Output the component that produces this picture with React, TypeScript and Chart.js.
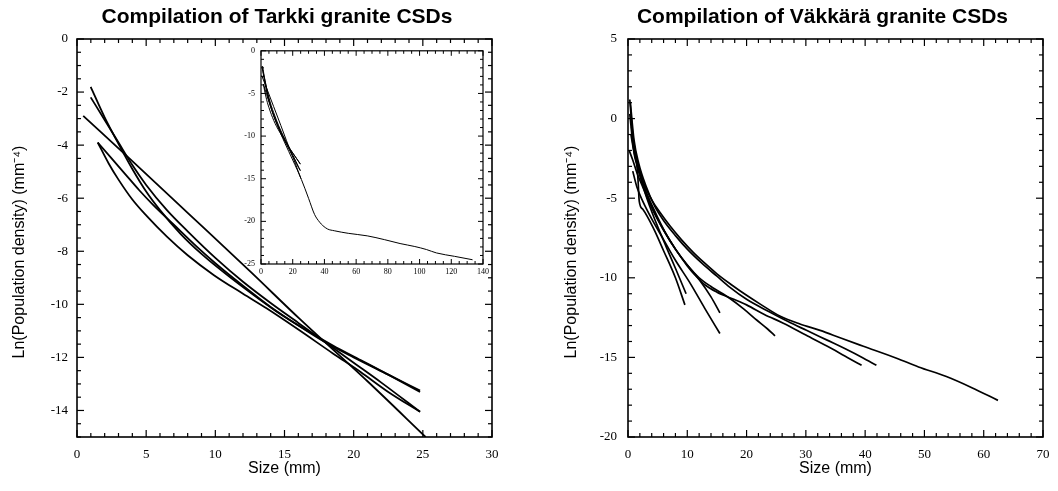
import React, { useEffect, useRef } from 'react';
import { Chart, registerables } from 'chart.js';

Chart.register(...registerables);

// ---------------- Tarkki granite (left panel) ----------------
const tarkkiTitle = 'Compilation of Tarkki granite CSDs';
const tarkkiXTicks = [0, 5, 10, 15, 20, 25, 30];
const tarkkiYTicks = [0, -2, -4, -6, -8, -10, -12, -14];

const tarkki1Size = [0.45, 4, 8, 12.5, 16.1, 21, 25.2];
const tarkki1Ln = [-2.9, -4.6, -6.55, -8.75, -10.55, -12.9, -15.0];

const tarkki2Size = [0.99, 2, 3, 4, 5, 6, 7.5, 9, 10.5, 12.5, 14.5, 16.5, 18.5, 20.5, 22.5, 24.8];
const tarkki2Ln = [-1.8, -2.95, -3.95, -4.9, -5.75, -6.45, -7.35, -8.1, -8.75, -9.55, -10.3, -10.95, -11.55, -12.1, -12.65, -13.3];

const tarkki3Size = [0.99, 2, 3, 4, 5, 6.5, 8, 10, 12, 14, 16, 18, 20, 22, 24.8];
const tarkki3Ln = [-2.2, -3.05, -3.9, -4.75, -5.5, -6.45, -7.25, -8.25, -9.15, -9.95, -10.7, -11.45, -12.2, -12.95, -14.05];

const tarkki4Size = [1.5, 2.5, 3.5, 4.5, 5.5, 7, 8.5, 10, 12, 14, 16, 18, 20, 22.5, 24.8];
const tarkki4Ln = [-3.9, -4.5, -5.1, -5.7, -6.25, -7.0, -7.75, -8.45, -9.3, -10.1, -10.8, -11.45, -12.0, -12.65, -13.25];

const tarkki5Size = [1.5, 2.3, 3, 4, 5, 6.5, 8, 9.9, 12, 13.7, 16, 18.5, 20.5, 22.5, 24.8];
const tarkki5Ln = [-3.9, -4.7, -5.3, -6.05, -6.65, -7.45, -8.15, -8.9, -9.6, -10.15, -10.95, -11.85, -12.55, -13.3, -14.05];

// inset: full-range CSD
const insetXTicks = [0, 20, 40, 60, 80, 100, 120, 140];
const insetYTicks = [0, -5, -10, -15, -20, -25];
const insetLongSize = [0.6, 3, 6, 10, 15, 20, 25.5, 30, 33.8, 37, 39, 42, 46.2, 55, 67, 78, 87.7, 97, 104.3, 110.6, 122, 133.4];
const insetLongLn = [-1.8, -4.3, -6.5, -8.6, -10.8, -12.8, -15.1, -17.3, -19.2, -20.1, -20.5, -20.9, -21.1, -21.4, -21.7, -22.15, -22.6, -22.95, -23.3, -23.7, -24.1, -24.5];

// ---------------- Väkkärä granite (right panel) ----------------
const vakkaraTitle = 'Compilation of Väkkärä granite CSDs';
const vakkaraXTicks = [0, 10, 20, 30, 40, 50, 60, 70];
const vakkaraYTicks = [5, 0, -5, -10, -15, -20];

const vakkara1Size = [0.3, 0.8, 1.5, 2.5, 4, 5.5, 7.1, 9, 11, 13, 15, 17.5, 20, 22.5, 25.6, 29, 32.4, 36, 39.7, 45.3, 49, 53.7, 58, 62.4];
const vakkara1Ln = [1.2, -1, -2.6, -3.9, -5.1, -5.95, -6.75, -7.6, -8.4, -9.1, -9.75, -10.45, -11.1, -11.7, -12.4, -12.9, -13.3, -13.8, -14.3, -15.05, -15.6, -16.2, -16.9, -17.7];

const vakkara2Size = [0.4, 1, 1.8, 3, 4.5, 6, 8, 10, 12.5, 15, 17.2, 20, 23.9, 27, 30.1, 33.5, 36.9, 39.5, 41.9];
const vakkara2Ln = [1.0, -1.3, -2.8, -4.2, -5.5, -6.4, -7.35, -8.2, -9.1, -9.9, -10.6, -11.35, -12.15, -12.75, -13.3, -13.9, -14.5, -15.0, -15.5];

const vakkara3Size = [0.3, 0.9, 1.8, 3, 4.5, 6, 8, 10, 11.6, 13, 15, 17.5, 20, 23, 26.2, 30, 34.1, 37, 39.4];
const vakkara3Ln = [0.3, -1.8, -3.2, -4.6, -5.95, -7.0, -8.2, -9.25, -9.95, -10.45, -10.9, -11.3, -11.7, -12.3, -12.85, -13.6, -14.4, -15.0, -15.5];

const vakkara4Size = [0.5, 1.2, 2.2, 3.5, 5, 6.5, 8, 10, 12, 14, 17.2, 19.5, 21.7, 23.5, 24.8];
const vakkara4Ln = [-1.0, -2.5, -3.8, -5.0, -6.2, -7.3, -8.2, -9.2, -10.0, -10.55, -11.3, -11.95, -12.65, -13.2, -13.65];

const vakkara5Size = [0.2, 0.8, 1.5, 2.5, 4, 6, 8, 10, 12, 14, 15.5];
const vakkara5Ln = [-2.0, -2.6, -3.4, -4.3, -5.6, -7.0, -8.2, -9.2, -10.1, -11.2, -12.2];

const vakkara6Size = [0.8, 1.5, 2.5, 4, 6, 8, 10.5, 13, 15.5];
const vakkara6Ln = [-3.3, -4.3, -5.2, -6.3, -7.6, -8.9, -10.35, -11.95, -13.5];

const vakkara7Size = [0.6, 1.2, 2, 3, 4.8, 6.5, 8, 9.8];
const vakkara7Ln = [-0.5, -2.2, -3.5, -4.8, -6.6, -8.1, -9.4, -11.0];

const vakkara8Size = [1.5, 1.7, 1.9, 2.5, 4.3, 6, 8, 9.6];
const vakkara8Ln = [-2.8, -3.9, -5.2, -5.7, -6.9, -8.3, -10.0, -11.7];

const xTitle = 'Size (mm)';
const yTitle = 'Ln(Population density) (mm⁻⁴)';

// ---------------- helpers ----------------
const curve = (xs: number[], ys: number[], width: number) => ({
  data: xs.map((x, i) => ({ x, y: ys[i] })),
  borderColor: '#000',
  borderWidth: width,
  pointRadius: 0,
  fill: false,
  yAxisID: 'y',
  xAxisID: 'x',
  cubicInterpolationMode: 'monotone' as const,
});

const frameTicksPlugin = {
  id: 'frameTicks',
  beforeDraw(chart: any, _a: any, opts: any) {
    if (!opts || !opts.bg) return;
    const { ctx, chartArea: a } = chart;
    ctx.save();
    ctx.fillStyle = opts.bg;
    ctx.fillRect(a.left, a.top, a.width, a.height);
    ctx.restore();
  },
  afterDraw(chart: any, _a: any, opts: any) {
    const { ctx, chartArea: a, scales } = chart;
    const xs = scales.x;
    const ys = scales.y;
    ctx.save();
    ctx.strokeStyle = '#000';
    ctx.lineWidth = opts.tickWidth || 1;
    const seg = (x1: number, y1: number, x2: number, y2: number) => {
      ctx.beginPath();
      ctx.moveTo(x1, y1);
      ctx.lineTo(x2, y2);
      ctx.stroke();
    };
    const isMajor = (v: number, step: number) => Math.abs(v / step - Math.round(v / step)) < 1e-6;
    const nx = Math.round((xs.max - xs.min) / opts.xMinor);
    for (let i = 0; i <= nx; i++) {
      const v = xs.min + i * opts.xMinor;
      const len = isMajor(v, opts.xMajor) ? opts.majorLen : opts.minorLen;
      const p = xs.getPixelForValue(v);
      seg(p, a.bottom, p, a.bottom - len);
      seg(p, a.top, p, a.top + len);
    }
    const ny = Math.round((ys.max - ys.min) / opts.yMinor);
    for (let i = 0; i <= ny; i++) {
      const v = ys.min + i * opts.yMinor;
      const len = isMajor(v, opts.yMajor) ? opts.majorLen : opts.minorLen;
      const p = ys.getPixelForValue(v);
      seg(a.left, p, a.left + len, p);
      seg(a.right, p, a.right - len, p);
    }
    ctx.lineWidth = opts.frameWidth || 1.5;
    ctx.strokeRect(a.left, a.top, a.width, a.height);
    ctx.restore();
  },
};

const yTitlePlugin = {
  id: 'yTitle',
  afterDraw(chart: any, _a: any, opts: any) {
    if (!opts || !opts.text) return;
    const { ctx, chartArea: a } = chart;
    ctx.save();
    ctx.translate(opts.x, (a.top + a.bottom) / 2 + opts.dy);
    ctx.rotate(-Math.PI / 2);
    ctx.font = opts.font;
    ctx.fillStyle = '#000';
    ctx.textAlign = 'center';
    ctx.textBaseline = 'middle';
    ctx.fillText(opts.text, 0, 0);
    ctx.restore();
  },
};

const tickFont = { family: 'Liberation Serif', size: 13 };
const titleFont = { family: 'Liberation Sans', size: 21, weight: 'bold' as const };
const axisTitleFont = { family: 'Liberation Sans', size: 16 };

function axis(min: number, max: number, ticks: number[], fitSize: number, horizontal: boolean, extra: any) {
  return {
    type: 'linear',
    min,
    max,
    afterBuildTicks: (s: any) => {
      s.ticks = ticks.map((v) => ({ value: v }));
    },
    afterFit: (s: any) => {
      if (horizontal) s.height = fitSize;
      else s.width = fitSize;
    },
    grid: { display: false, drawTicks: false },
    border: { display: false },
    ...extra,
  };
}

// spacer axis on the right side (no marks) so the title centres where the original does
function spacer(width: number) {
  return {
    type: 'linear',
    position: 'right',
    display: true,
    afterFit: (s: any) => {
      s.width = width;
    },
    grid: { display: false, drawTicks: false },
    border: { display: false },
    ticks: { display: false },
  };
}

function mainConfig(opts: {
  title: string;
  datasets: any[];
  yWidth: number;
  rightWidth: number;
  xMin: number; xMax: number; xTicks: number[]; xMajor: number; xMinor: number;
  yMin: number; yMax: number; yTicks: number[]; yMajor: number; yMinor: number;
  yLabelPad: number;
  yTitleX: number;
}) {
  return {
    type: 'line',
    data: { datasets: opts.datasets },
    plugins: [frameTicksPlugin, yTitlePlugin],
    options: {
      responsive: false,
      animation: false,
      events: [],
      layout: { padding: 0 },
      plugins: {
        legend: { display: false },
        tooltip: { enabled: false },
        title: {
          display: true,
          text: opts.title,
          color: '#000',
          font: titleFont,
          padding: { top: 5, bottom: 8.8 },
        },
        frameTicks: {
          xMajor: opts.xMajor, xMinor: opts.xMinor, yMajor: opts.yMajor, yMinor: opts.yMinor,
          majorLen: 7, minorLen: 4, tickWidth: 1.2, frameWidth: 1.6,
        },
        yTitle: { text: yTitle, x: opts.yTitleX, dy: 14, font: '16px "Liberation Sans"' },
      },
      scales: {
        x: axis(opts.xMin, opts.xMax, opts.xTicks, 54, true, {
          ticks: { font: tickFont, color: '#000', padding: 10, maxRotation: 0 },
          title: { display: true, text: xTitle, color: '#000', font: axisTitleFont, padding: { top: 0, bottom: 13 } },
        }),
        y: axis(opts.yMin, opts.yMax, opts.yTicks, opts.yWidth, false, {
          ticks: { font: tickFont, color: '#000', padding: opts.yLabelPad },
        }),
        yRightSpace: spacer(opts.rightWidth),
      },
    },
  };
}

function insetConfig() {
  const insetTickFont = { family: 'Liberation Serif', size: 8 };
  return {
    type: 'line',
    data: {
      datasets: [
        curve(tarkki1Size, tarkki1Ln, 1),
        curve(tarkki2Size, tarkki2Ln, 1),
        curve(tarkki3Size, tarkki3Ln, 1),
        curve(tarkki4Size, tarkki4Ln, 1),
        curve(tarkki5Size, tarkki5Ln, 1),
        curve(insetLongSize, insetLongLn, 1),
      ],
    },
    plugins: [frameTicksPlugin],
    options: {
      responsive: false,
      animation: false,
      events: [],
      layout: { padding: { left: 0, right: 8, top: 6, bottom: 0 } },
      plugins: {
        legend: { display: false },
        tooltip: { enabled: false },
        title: { display: false },
        frameTicks: {
          bg: '#fff',
          xMajor: 20, xMinor: 5, yMajor: 5, yMinor: 1,
          majorLen: 5, minorLen: 3, tickWidth: 1, frameWidth: 1.2,
        },
      },
      scales: {
        x: axis(0, 140, insetXTicks, 21, true, {
          ticks: { font: insetTickFont, color: '#000', padding: 3, maxRotation: 0 },
        }),
        y: axis(-25, 0, insetYTicks, 25, false, {
          ticks: { font: insetTickFont, color: '#000', padding: 6 },
        }),
      },
    },
  };
}

function ChartCanvas({ left, top, width, height, make }: { left: number; top: number; width: number; height: number; make: () => any }) {
  const ref = useRef<HTMLCanvasElement | null>(null);
  useEffect(() => {
    if (!ref.current) return;
    const chart = new Chart(ref.current, make());
    return () => chart.destroy();
  }, []);
  return (
    <canvas
      ref={ref}
      width={width}
      height={height}
      style={{ position: 'absolute', left, top, width, height }}
    />
  );
}

export default function App() {
  const makeLeft = () =>
    mainConfig({
      title: tarkkiTitle,
      datasets: [
        curve(tarkki1Size, tarkki1Ln, 1.8),
        curve(tarkki2Size, tarkki2Ln, 1.8),
        curve(tarkki3Size, tarkki3Ln, 1.8),
        curve(tarkki4Size, tarkki4Ln, 1.8),
        curve(tarkki5Size, tarkki5Ln, 1.8),
      ],
      yWidth: 77,
      rightWidth: 62,
      xMin: 0, xMax: 30, xTicks: tarkkiXTicks, xMajor: 5, xMinor: 1,
      yMin: -15, yMax: 0, yTicks: tarkkiYTicks, yMajor: 2, yMinor: 0.5,
      yLabelPad: 9,
      yTitleX: 20,
    });
  const makeRight = () =>
    mainConfig({
      title: vakkaraTitle,
      datasets: [
        curve(vakkara1Size, vakkara1Ln, 1.7),
        curve(vakkara2Size, vakkara2Ln, 1.7),
        curve(vakkara3Size, vakkara3Ln, 1.7),
        curve(vakkara4Size, vakkara4Ln, 1.7),
        curve(vakkara5Size, vakkara5Ln, 1.7),
        curve(vakkara6Size, vakkara6Ln, 1.7),
        curve(vakkara7Size, vakkara7Ln, 1.7),
        curve(vakkara8Size, vakkara8Ln, 1.7),
      ],
      yWidth: 88,
      rightWidth: 62,
      xMin: 0, xMax: 70, xTicks: vakkaraXTicks, xMajor: 10, xMinor: 2,
      yMin: -20, yMax: 5, yTicks: vakkaraYTicks, yMajor: 5, yMinor: 1,
      yLabelPad: 11,
      yTitleX: 32,
    });
  return (
    <div style={{ position: 'absolute', left: 0, top: 0, width: 1058, height: 491, overflow: 'hidden', background: '#fff' }}>
      <ChartCanvas left={0} top={0} width={554} height={491} make={makeLeft} />
      <ChartCanvas left={540} top={0} width={565} height={491} make={makeRight} />
      <ChartCanvas left={236} top={40} width={256} height={245} make={insetConfig} />
    </div>
  );
}
